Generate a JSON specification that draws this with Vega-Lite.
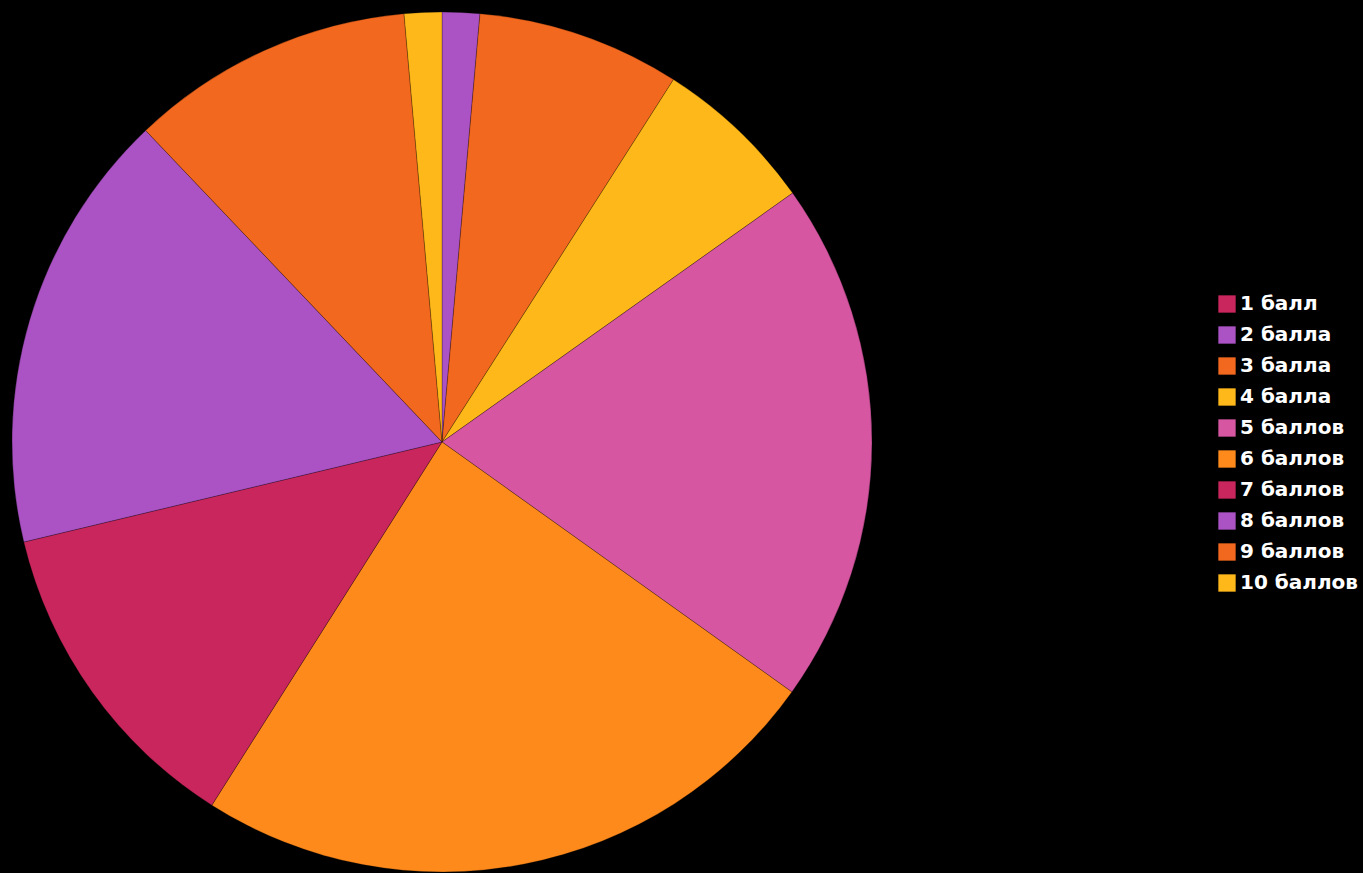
{
  "$schema": "https://vega.github.io/schema/vega-lite/v6.json",
  "background": "black",
  "width": 860,
  "height": 860,
  "padding": {"left": 10, "top": 10, "right": 5, "bottom": 3},
  "config": {"view": {"stroke": null}},
  "data": {
    "values": [
      {"label": "1 балл", "order": 1, "value": 0},
      {"label": "2 балла", "order": 2, "value": 5.07},
      {"label": "3 балла", "order": 3, "value": 27.5},
      {"label": "4 балла", "order": 4, "value": 22.06},
      {"label": "5 баллов", "order": 5, "value": 70.91},
      {"label": "6 баллов", "order": 6, "value": 86.82},
      {"label": "7 баллов", "order": 7, "value": 44.19},
      {"label": "8 баллов", "order": 8, "value": 59.88},
      {"label": "9 баллов", "order": 9, "value": 38.5},
      {"label": "10 баллов", "order": 10, "value": 5.07}
    ]
  },
  "mark": {"type": "arc", "stroke": "#000000", "strokeOpacity": 0.25, "strokeWidth": 1},
  "encoding": {
    "theta": {"field": "value", "type": "quantitative", "stack": true},
    "order": {"field": "order", "type": "quantitative"},
    "color": {
      "field": "label",
      "type": "nominal",
      "sort": ["1 балл", "2 балла", "3 балла", "4 балла", "5 баллов", "6 баллов", "7 баллов", "8 баллов", "9 баллов", "10 баллов"],
      "scale": {
        "domain": ["1 балл", "2 балла", "3 балла", "4 балла", "5 баллов", "6 баллов", "7 баллов", "8 баллов", "9 баллов", "10 баллов"],
        "range": ["#c8265c", "#ab52c4", "#f2681e", "#ffb819", "#d656a2", "#ff8a1c", "#c8265c", "#ab52c4", "#f2681e", "#ffb819"]
      },
      "legend": {
        "title": null,
        "orient": "none",
        "legendX": 1205,
        "legendY": 282,
        "symbolType": "square",
        "symbolSize": 300,
        "symbolStrokeWidth": 0,
        "labelColor": "#ffffff",
        "labelFont": "DejaVu Sans",
        "labelFontSize": 20,
        "labelFontWeight": "bold",
        "rowPadding": 11,
        "labelOffset": 3,
        "labelLimit": 300
      }
    }
  }
}
